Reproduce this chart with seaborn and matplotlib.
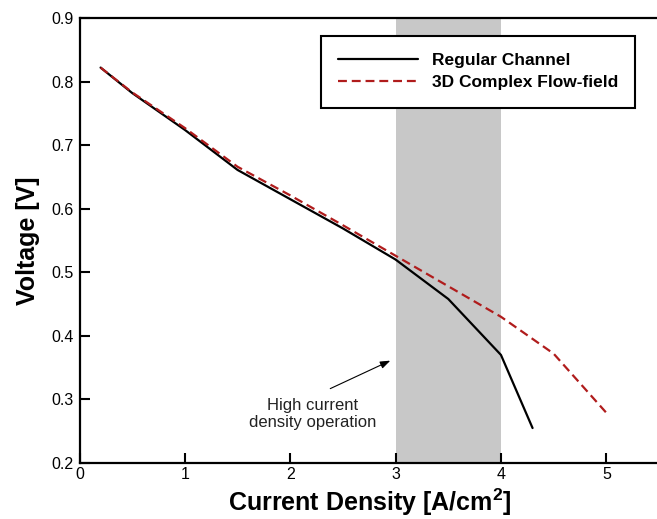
import matplotlib
matplotlib.use("Agg")
import matplotlib.pyplot as plt
import seaborn as sns
import numpy as np

# ---- data ----
reg_x = [0.2, 0.5, 1.0, 1.5, 2.0, 2.5, 3.0, 3.5, 4.0, 4.3]
reg_y = [0.822, 0.782, 0.724, 0.661, 0.615, 0.569, 0.520, 0.458, 0.370, 0.255]
cfx_x = [0.2, 0.5, 1.0, 1.5, 2.0, 2.5, 3.0, 3.5, 4.0, 4.5, 5.0]
cfx_y = [0.822, 0.783, 0.727, 0.666, 0.621, 0.574, 0.526, 0.478, 0.430, 0.372, 0.279]
band = (3.0, 4.0)
x_ticks = [0, 1, 2, 3, 4, 5]
y_ticks = [0.2, 0.3, 0.4, 0.5, 0.6, 0.7, 0.8, 0.9]
series_labels = ["Regular Channel", "3D Complex Flow-field"]
note_text = "High current\ndensity operation"

sns.set_style("ticks")
plt.rcParams['font.family'] = ['Liberation Sans', 'DejaVu Sans']
plt.rcParams['mathtext.fontset'] = 'custom'
plt.rcParams['mathtext.bf'] = 'Liberation Sans:bold'
plt.rcParams['mathtext.rm'] = 'Liberation Sans'
plt.rcParams['text.color'] = 'black'
plt.rcParams['axes.labelcolor'] = 'black'

fig = plt.figure(figsize=(6.57, 5.19), dpi=100)
ax = fig.add_axes([79.5/657, 56/519, 579.5/657, 445/519])

ax.axvspan(band[0], band[1], color='#c8c8c8', lw=0, zorder=0)

sns.lineplot(x=reg_x, y=reg_y, ax=ax, color='black', lw=1.6,
             label=series_labels[0], sort=False, zorder=3)
sns.lineplot(x=cfx_x, y=cfx_y, ax=ax, color='#b01c1c', lw=1.6,
             linestyle=(0, (4, 2.2)), label=series_labels[1], sort=False, zorder=4)

ax.set_xlim(0, 5.5)
ax.set_ylim(0.2, 0.9)
ax.set_xticks(x_ticks)
ax.set_xticklabels([str(t) for t in x_ticks])
ax.set_yticks(y_ticks)
ax.set_yticklabels([f"{t:.1f}" for t in y_ticks])
ax.tick_params(direction='in', length=7, width=1.5, labelsize=11.5, pad=4, colors='black')
ax.tick_params(axis='x', pad=3)

for s in ['left', 'bottom', 'top']:
    ax.spines[s].set_linewidth(1.6)
    ax.spines[s].set_color('black')
ax.spines['right'].set_visible(False)

ax.set_xlabel(r"Current Density [A/cm$^{\mathbf{2}}$]", fontsize=18, fontweight='bold',
              labelpad=3, color='black')
ax.set_ylabel("Voltage [V]", fontsize=18, fontweight='bold', labelpad=8, color='black')

leg = ax.legend(loc='upper right', bbox_to_anchor=(0.959, 0.960), borderaxespad=0,
                fancybox=False, frameon=True, edgecolor='black',
                prop={'weight': 'bold', 'size': 12.5}, handlelength=4.6,
                handletextpad=0.8, borderpad=1.0, labelspacing=0.4)
leg.get_frame().set_linewidth(1.5)
leg.get_frame().set_alpha(1)
for t in leg.get_texts():
    t.set_color('black')

ax.text(2.21, 0.277, note_text, ha='center', va='center', fontsize=12, linespacing=1.1,
        color='#222222')
ax.annotate('', xy=(2.95, 0.361), xytext=(2.38, 0.317),
            arrowprops=dict(arrowstyle='-|>,head_length=0.6,head_width=0.22',
                            color='black', lw=0.8, shrinkA=0, shrinkB=0))

fig.savefig("out.png", dpi=100)
